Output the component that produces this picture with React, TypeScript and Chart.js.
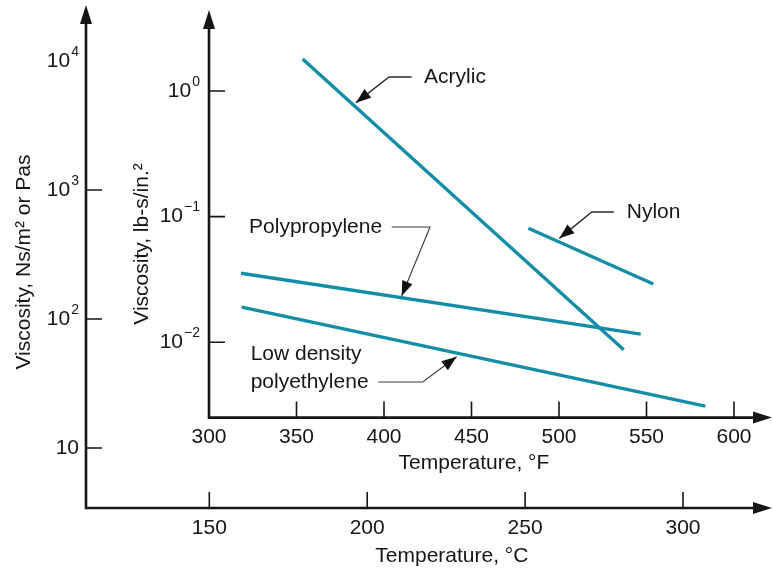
import React, { useEffect, useRef } from "react";
import { Chart, registerables } from "chart.js";

Chart.register(...registerables);

// ---------- data (inner axes: °F and lb-s/in.²) ----------
const acrylicF = [353.5, 537.0];
const acrylicVisc = [1.8, 0.0087];
const nylonF = [482.5, 553.9];
const nylonVisc = [0.0807, 0.0291];
const polypropyleneF = [318.3, 546.7];
const polypropyleneVisc = [0.0354, 0.0116];
const ldpeF = [318.7, 583.6];
const ldpeVisc = [0.019, 0.0031];

// ---------- ticks ----------
const fahrenheitTicks = [350, 400, 450, 500, 550, 600];
const celsiusTicks = [150, 200, 250, 300];
const lbExponents = [0, -1, -2];
const paExponents = [1, 2, 3, 4];
const paTickMarks = [1, 2, 3];

// ---------- annotations (data coords on inner axes) ----------
const acrylicNote = { text: ["Acrylic"], at: [422.9, 1.293], leader: [[415.8, 1.293], [402.9, 1.293]], tip: [384, 0.807] };
const nylonNote = { text: ["Nylon"], at: [538.7, 0.1089], leader: [[531.4, 0.1089], [518.7, 0.1089]], tip: [500.2, 0.0671] };
const ppNote = { text: ["Polypropylene"], at: [322.9, 0.0826], leader: [[404.4, 0.0826], [426.3, 0.0826]], tip: [410.1, 0.02333] };
const ldpeNote = { text: ["Low density", "polyethylene"], at: [323.8, 0.00805], leader: [[396.7, 0.00482], [422.1, 0.00482]], tip: [441.5, 0.00766] };

const TEAL = "#138ea6";
const INK = "#161616";
const FONT = "'Liberation Sans', Arial, Helvetica, sans-serif";
const FS = 21;
const SUP = 14;
const OUTER_X = 86;
const OUTER_Y = 508;

function toPts(xs: number[], ys: number[]) {
  return xs.map((x, i) => ({ x, y: ys[i] }));
}

function arrowHead(ctx: CanvasRenderingContext2D, fx: number, fy: number, tx: number, ty: number, len: number, half: number) {
  const a = Math.atan2(ty - fy, tx - fx);
  const bx = tx - Math.cos(a) * len;
  const by = ty - Math.sin(a) * len;
  ctx.beginPath();
  ctx.moveTo(tx, ty);
  ctx.lineTo(bx + Math.sin(a) * half, by - Math.cos(a) * half);
  ctx.lineTo(bx - Math.sin(a) * half, by + Math.cos(a) * half);
  ctx.closePath();
  ctx.fill();
}

function drawPow(ctx: CanvasRenderingContext2D, exp: number, right: number, y: number) {
  ctx.textBaseline = "middle";
  if (exp === 1) {
    ctx.font = `${FS}px ${FONT}`;
    ctx.textAlign = "right";
    ctx.fillText("10", right, y);
    return;
  }
  const e = exp < 0 ? "\u2212" + Math.abs(exp) : String(exp);
  ctx.font = `${SUP}px ${FONT}`;
  const ew = ctx.measureText(e).width;
  ctx.textAlign = "left";
  ctx.fillText(e, right - ew, y - 9);
  ctx.font = `${FS}px ${FONT}`;
  ctx.textAlign = "right";
  ctx.fillText("10", right - ew - 1, y);
}

const axesPlugin = {
  id: "customAxes",
  afterDatasetsDraw(chart: any) {
    const ctx: CanvasRenderingContext2D = chart.ctx;
    const xF = chart.scales.xF;
    const yIn = chart.scales.yIn;
    const xC = chart.scales.xC;
    const yPa = chart.scales.yPa;
    const W = chart.width;
    const innerX = xF.getPixelForValue(300);
    const innerY = chart.chartArea.bottom;
    ctx.save();
    ctx.strokeStyle = INK;
    ctx.fillStyle = INK;
    ctx.lineCap = "butt";

    // axis lines
    ctx.lineWidth = 2.6;
    ctx.beginPath();
    ctx.moveTo(OUTER_X, OUTER_Y);
    ctx.lineTo(OUTER_X, 20);
    ctx.moveTo(OUTER_X - 1.3, OUTER_Y);
    ctx.lineTo(W - 15, OUTER_Y);
    ctx.moveTo(innerX, innerY);
    ctx.lineTo(innerX, 25);
    ctx.moveTo(innerX - 1.3, innerY);
    ctx.lineTo(W - 15, innerY);
    ctx.stroke();
    arrowHead(ctx, OUTER_X, 100, OUTER_X, 5, 19, 6);
    arrowHead(ctx, innerX, 100, innerX, 10, 19, 6);
    arrowHead(ctx, 600, OUTER_Y, W - 1, OUTER_Y, 19, 6);
    arrowHead(ctx, 600, innerY, W - 1, innerY, 19, 6);

    // tick marks
    ctx.lineWidth = 1.6;
    ctx.beginPath();
    for (const e of paTickMarks) {
      const y = yPa.getPixelForValue(Math.pow(10, e));
      ctx.moveTo(OUTER_X, y);
      ctx.lineTo(OUTER_X + 16, y);
    }
    for (const e of lbExponents) {
      const y = yIn.getPixelForValue(Math.pow(10, e));
      ctx.moveTo(innerX, y);
      ctx.lineTo(innerX + 16, y);
    }
    for (const t of fahrenheitTicks) {
      const x = xF.getPixelForValue(t);
      ctx.moveTo(x, innerY);
      ctx.lineTo(x, innerY - 16);
    }
    for (const t of celsiusTicks) {
      const x = xC.getPixelForValue(t);
      ctx.moveTo(x, OUTER_Y);
      ctx.lineTo(x, OUTER_Y - 16);
    }
    ctx.stroke();

    // tick labels
    for (const e of paExponents) drawPow(ctx, e, OUTER_X - 7, yPa.getPixelForValue(Math.pow(10, e)));
    for (const e of lbExponents) drawPow(ctx, e, innerX - 9, yIn.getPixelForValue(Math.pow(10, e)));
    ctx.font = `${FS}px ${FONT}`;
    ctx.textAlign = "center";
    ctx.textBaseline = "middle";
    for (const t of [300, ...fahrenheitTicks]) ctx.fillText(String(t), xF.getPixelForValue(t), innerY + 20);
    for (const t of celsiusTicks) ctx.fillText(String(t), xC.getPixelForValue(t), OUTER_Y + 20);

    // axis titles
    ctx.fillText("Temperature, \u00B0F", xF.getPixelForValue(451.4), innerY + 46);
    ctx.fillText("Temperature, \u00B0C", xC.getPixelForValue(226.8), OUTER_Y + 48);
    ctx.save();
    ctx.translate(24, 262);
    ctx.rotate(-Math.PI / 2);
    ctx.fillText("Viscosity, Ns/m\u00B2 or Pas", 0, 0);
    ctx.restore();
    ctx.save();
    ctx.translate(142, 244);
    ctx.rotate(-Math.PI / 2);
    ctx.fillText("Viscosity, lb-s/in.\u00B2", 0, 0);
    ctx.restore();

    // annotations
    const notes = [acrylicNote, nylonNote, ppNote, ldpeNote];
    notes.forEach((n, idx) => {
      const px = (p: number[]) => [xF.getPixelForValue(p[0]), yIn.getPixelForValue(p[1])];
      const [tx, ty] = px(n.at);
      ctx.font = `${FS}px ${FONT}`;
      ctx.textAlign = "left";
      ctx.textBaseline = "middle";
      ctx.fillStyle = INK;
      n.text.forEach((s, i) => ctx.fillText(s, tx, ty + i * 27.7));
      const pts = [...n.leader.map(px), px(n.tip)];
      ctx.lineWidth = idx < 2 ? 1.4 : 1.1;
      ctx.strokeStyle = idx < 2 ? "#2a2a2a" : "#3a3a3a";
      ctx.beginPath();
      ctx.moveTo(pts[0][0], pts[0][1]);
      for (let i = 1; i < pts.length; i++) ctx.lineTo(pts[i][0], pts[i][1]);
      ctx.stroke();
      const a = pts[pts.length - 2];
      const b = pts[pts.length - 1];
      ctx.fillStyle = "#111";
      arrowHead(ctx, a[0], a[1], b[0], b[1], 15, 5.5);
    });
    ctx.restore();
  },
};

export default function App() {
  const ref = useRef<HTMLCanvasElement | null>(null);
  useEffect(() => {
    if (!ref.current) return;
    const ds = (xs: number[], ys: number[]) => ({
      data: toPts(xs, ys),
      borderColor: TEAL,
      borderWidth: 3.4,
      pointRadius: 0,
      fill: false,
      tension: 0,
      xAxisID: "xF",
      yAxisID: "yIn",
    });
    const chart = new Chart(ref.current, {
      type: "line",
      data: {
        datasets: [
          ds(acrylicF, acrylicVisc),
          ds(nylonF, nylonVisc),
          ds(polypropyleneF, polypropyleneVisc),
          ds(ldpeF, ldpeVisc),
        ],
      },
      options: {
        responsive: false,
        maintainAspectRatio: false,
        animation: false,
        events: [],
        layout: { padding: { left: 209, top: 15.6, right: 39, bottom: 152.4 } },
        plugins: { legend: { display: false }, tooltip: { enabled: false } },
        scales: {
          xF: { type: "linear", display: false, min: 300, max: 600, bounds: "data" },
          yIn: { type: "logarithmic", display: false, min: Math.pow(10, -2.6), max: Math.pow(10, 0.6), bounds: "data" },
          xC: { type: "linear", display: false, min: 149.9, max: 316.15, bounds: "data" },
          yPa: { type: "logarithmic", display: false, min: Math.pow(10, 1.2357), max: Math.pow(10, 4.352), bounds: "data" },
        },
      } as any,
      plugins: [axesPlugin],
    });
    return () => chart.destroy();
  }, []);
  return (
    <div style={{ position: "absolute", left: 0, top: 0, width: 773, height: 570, background: "#fff" }}>
      <canvas ref={ref} width={773} height={570} style={{ width: 773, height: 570 }} />
    </div>
  );
}
